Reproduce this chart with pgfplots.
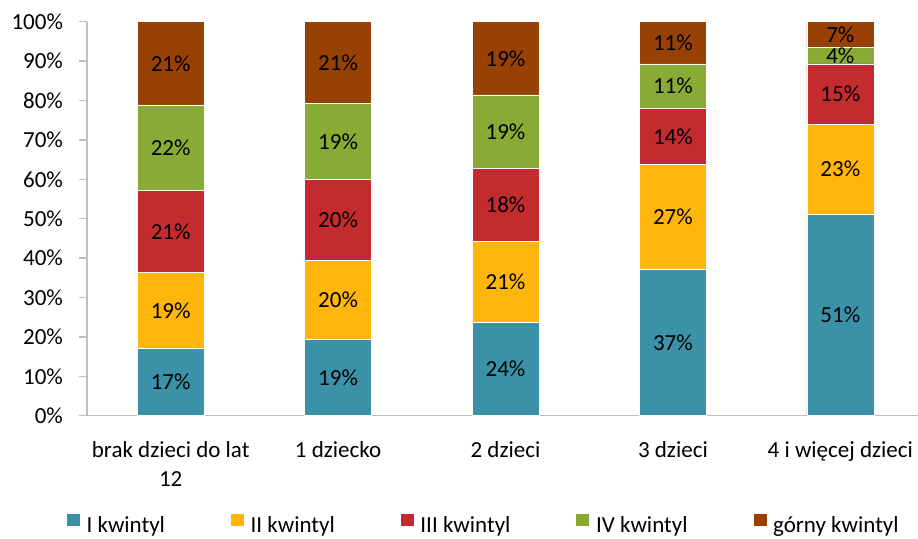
\documentclass[border=0pt]{standalone}
\usepackage{pgfplots}
\pgfplotsset{compat=1.18}
\usepackage{pgfplotstable}
\usepackage{fontspec}
\setmainfont{Carlito}

\definecolor{kwI}{HTML}{3B91A8}
\definecolor{kwII}{HTML}{FFB60A}
\definecolor{kwIII}{HTML}{C32B2F}
\definecolor{kwIV}{HTML}{87AB35}
\definecolor{kwV}{HTML}{984105}
\definecolor{osie}{HTML}{BFBFBF}

% udzialy kwintyli (%), kolejno: brak dzieci, 1, 2, 3, 4+
\pgfplotstableread{
x I    II   III  IV   V
0 17.0 19.3 20.9 21.7 21.1
1 19.3 20.2 20.4 19.4 20.7
2 23.6 20.7 18.4 18.7 18.6
3 37.2 26.6 14.2 11.3 10.7
4 51.2 22.8 15.3 4.1  6.6
}\dane

\pgfplotsset{
    wspolne/.style={
        scale only axis,
        width=415.5pt, height=197pt,
        xmin=-0.5, xmax=4.464,
        ymin=0, ymax=100,
        /pgf/number format/assume math mode=true,
    },
}

\begin{document}
\fontsize{11.5}{14.2}\selectfont
\begin{tikzpicture}
\begin{axis}[
    wspolne,
    ybar stacked,
    bar width=33.5pt,
    axis x line*=bottom,
    axis y line*=left,
    axis line style={draw=osie, line width=0.7pt},
    xtick={0,...,4},
    xticklabels={{brak dzieci do lat\\12}, 1 dziecko, 2 dzieci, 3 dzieci, 4 i więcej dzieci},
    xticklabel style={align=center, yshift=-5pt},
    x tick style={draw=none},
    ytick={0,10,...,100},
    yticklabel={\pgfmathprintnumber{\tick}\%},
    yticklabel style={xshift=-4pt},
    y tick style={draw=osie, line width=0.7pt},
    tick align=outside,
    major tick length=4pt,
    legend columns=5,
    legend cell align=left,
    legend style={
        draw=none, inner sep=0pt, outer sep=0pt,
        font=\fontsize{11.5}{14.2}\selectfont,
        nodes={inner sep=0pt},
        at={(-0.0253,0)}, anchor=south west, yshift=-60pt,
        /tikz/every odd column/.append style={column sep=3pt},
        /tikz/every even column/.append style={column sep=32.5pt},
    },
    legend image code/.code={\fill[#1] (0pt,0pt) rectangle (7pt,6.5pt);},
    every axis plot/.append style={draw=white, line width=0.3pt},
]
\addplot[fill=kwI] table[x=x, y=I] {\dane};
\addplot[fill=kwII] table[x=x, y=II] {\dane};
\addplot[fill=kwIII] table[x=x, y=III] {\dane};
\addplot[fill=kwIV] table[x=x, y=IV] {\dane};
\addplot[fill=kwV] table[x=x, y=V] {\dane};
\legend{I kwintyl, II kwintyl, III kwintyl, IV kwintyl, górny kwintyl}
\coordinate (sw) at (rel axis cs:0,0);
\end{axis}

% etykiety danych na srodku segmentow
\begin{axis}[
    wspolne,
    hide axis,
    nodes near coords={\pgfmathprintnumber[fixed,precision=0]{\pgfplotspointmeta}\%},
    every node near coord/.append style={anchor=center, text=black, inner sep=0pt},
]
\addplot[only marks, mark=*, mark size=0pt, draw=none, fill=none, point meta=explicit]
    table[x=x, y expr=\thisrow{I}/2, meta=I] {\dane};
\addplot[only marks, mark=*, mark size=0pt, draw=none, fill=none, point meta=explicit]
    table[x=x, y expr=\thisrow{I}+\thisrow{II}/2, meta=II] {\dane};
\addplot[only marks, mark=*, mark size=0pt, draw=none, fill=none, point meta=explicit]
    table[x=x, y expr=\thisrow{I}+\thisrow{II}+\thisrow{III}/2, meta=III] {\dane};
\addplot[only marks, mark=*, mark size=0pt, draw=none, fill=none, point meta=explicit]
    table[x=x, y expr=\thisrow{I}+\thisrow{II}+\thisrow{III}+\thisrow{IV}/2, meta=IV] {\dane};
\addplot[only marks, mark=*, mark size=0pt, draw=none, fill=none, point meta=explicit]
    table[x=x, y expr=\thisrow{I}+\thisrow{II}+\thisrow{III}+\thisrow{IV}+\thisrow{V}/2, meta=V] {\dane};
\end{axis}

\pgfresetboundingbox
\path[use as bounding box] ([shift={(-43.5pt,-61.15pt)}]sw) rectangle ([shift={(415.5pt,207.85pt)}]sw);
\end{tikzpicture}
\end{document}
